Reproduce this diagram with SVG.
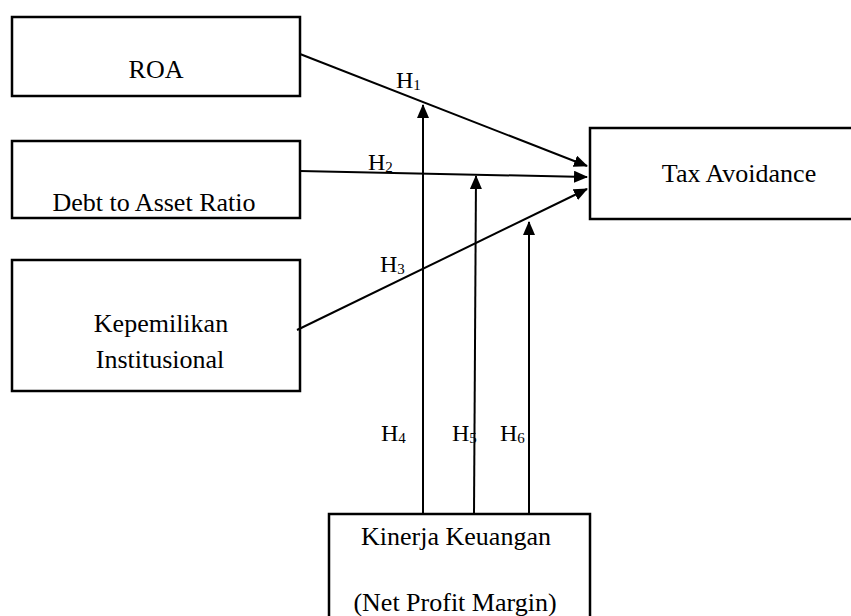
<svg xmlns="http://www.w3.org/2000/svg" width="851" height="616" viewBox="0 0 851 616">
<style>
.box{fill:#fff;stroke:#000;stroke-width:2.5}
.t{font-family:"Liberation Serif","Times New Roman",serif;font-size:26px;fill:#000;text-anchor:middle}
.h{font-family:"Liberation Serif","Times New Roman",serif;font-size:24px;fill:#000}
.sub{font-size:15px}
.c{stroke:#000;stroke-width:2;fill:none;marker-end:url(#ah)}
</style>
<defs>
<marker id="ah" markerUnits="userSpaceOnUse" markerWidth="14" markerHeight="12" viewBox="0 0 14 12" refX="13" refY="6" orient="auto">
<path d="M0,0 L14,6 L0,12 Z" fill="#000"/>
</marker>
</defs>
<rect width="851" height="616" fill="#fff"/>
<g id="roa"><rect class="box" x="12" y="17" width="288" height="79"/><text class="t" x="156" y="78">ROA</text></g>
<g id="dar"><rect class="box" x="12" y="141" width="288" height="77"/><text class="t" x="154" y="211">Debt to Asset Ratio</text></g>
<g id="ki"><rect class="box" x="12" y="260" width="288" height="131"/><text class="t" x="161" y="332">Kepemilikan</text><text class="t" x="160" y="368">Institusional</text></g>
<g id="ta"><rect class="box" x="590" y="128" width="280" height="91"/><text class="t" x="739" y="182">Tax Avoidance</text></g>
<g id="kk"><rect class="box" x="329" y="514" width="261" height="120"/><text class="t" x="456" y="545">Kinerja Keuangan</text><text class="t" x="455" y="611">(Net Profit Margin)</text></g>
<g id="connectors">
<line class="c" x1="300" y1="54" x2="587" y2="166"/>
<line class="c" x1="300" y1="171" x2="587" y2="177"/>
<line class="c" x1="297" y1="330" x2="587" y2="189"/>
<line class="c" x1="423" y1="514" x2="423" y2="105"/>
<line class="c" x1="474" y1="514" x2="476" y2="176"/>
<line class="c" x1="529" y1="514" x2="529" y2="222"/>
</g>
<g id="labels">
<text class="h" x="396" y="88">H<tspan class="sub" dy="2">1</tspan></text>
<text class="h" x="368" y="170">H<tspan class="sub" dy="2">2</tspan></text>
<text class="h" x="380" y="272">H<tspan class="sub" dy="2">3</tspan></text>
<text class="h" x="381" y="441">H<tspan class="sub" dy="2">4</tspan></text>
<text class="h" x="452" y="441">H<tspan class="sub" dy="2">5</tspan></text>
<text class="h" x="500" y="441">H<tspan class="sub" dy="2">6</tspan></text>
</g>
</svg>
